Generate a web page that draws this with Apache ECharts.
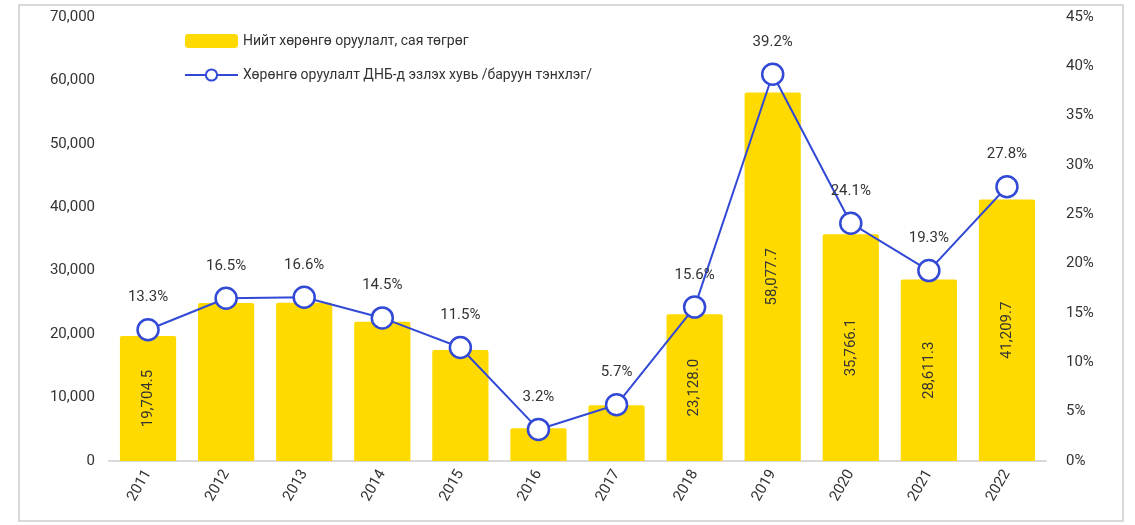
<!DOCTYPE html>
<html>
<head>
<meta charset="utf-8">
<script src="https://cdn.jsdelivr.net/npm/echarts@6/dist/echarts.min.js"></script>
<style>
  html, body { margin: 0; padding: 0; background: #fff; }
  #chart { width: 1135px; height: 525px; }
</style>
</head>
<body>
<div id="chart"></div>
<script>
const years = ['2011', '2012', '2013', '2014', '2015', '2016', '2017', '2018', '2019', '2020', '2021', '2022'];
// Нийт хөрөнгө оруулалт, сая төгрөг (2012-2017)
const investment = [19704.5, 24900, 24950, 21950, 17500, 5150, 8800, 23128.0, 58077.7, 35766.1, 28611.3, 41209.7];
const investmentLabelShown = [true, false, false, false, false, false, false, true, true, true, true, true];
// Хөрөнгө оруулалт ДНБ-д эзлэх хувь
const gdpShare = [13.3, 16.5, 16.6, 14.5, 11.5, 3.2, 5.7, 15.6, 39.2, 24.1, 19.3, 27.8];

const barName = 'Нийт хөрөнгө оруулалт, сая төгрөг';
const lineName = 'Хөрөнгө оруулалт ДНБ-д эзлэх хувь /баруун тэнхлэг/';

const textColor = '#333';
const fontFam = 'Roboto, "Liberation Sans", sans-serif';

const fmt = v => v.toLocaleString('en-US', { minimumFractionDigits: 1, maximumFractionDigits: 1 });

const chart = echarts.init(document.getElementById('chart'));

chart.setOption({
    animation: false,
    textStyle: { fontFamily: fontFam, color: textColor },
    graphic: [{
        type: 'rect',
        shape: { x: 19, y: 5, width: 1104, height: 516 },
        style: { fill: 'none', stroke: '#d9d9d9', lineWidth: 2 },
        silent: true
    }],
    legend: {
        orient: 'vertical',
        left: 179,
        top: 29,
        itemGap: 20,
        itemWidth: 53,
        itemHeight: 14,
        textStyle: { fontSize: 14, color: textColor, fontFamily: fontFam },
        data: [
            { name: barName, icon: 'roundRect' },
            { name: lineName }
        ]
    },
    grid: { left: 109, right: 89, top: 17, bottom: 64 },
    xAxis: {
        type: 'category',
        data: years,
        axisLine: { lineStyle: { color: '#d9d9d9', width: 2 } },
        axisTick: { show: false },
        axisLabel: { rotate: 60, fontSize: 15, color: textColor, margin: 10 }
    },
    yAxis: [{
        type: 'value',
        min: 0, max: 70000, interval: 10000,
        splitLine: { show: false },
        axisLine: { show: false },
        axisTick: { show: false },
        axisLabel: {
            fontSize: 15, color: textColor, margin: 14,
            formatter: v => v.toLocaleString('en-US')
        }
    }, {
        type: 'value',
        min: 0, max: 45, interval: 5,
        splitLine: { show: false },
        axisLine: { show: false },
        axisTick: { show: false },
        axisLabel: { fontSize: 15, color: textColor, margin: 20, formatter: '{value}%' }
    }],
    series: [{
        name: barName,
        type: 'bar',
        barWidth: '72%',
        itemStyle: { color: '#FFDA00', borderRadius: [2, 2, 0, 0] },
        data: investment.map((v, i) => ({
            value: v,
            label: {
                show: investmentLabelShown[i],
                position: 'inside',
                rotate: 90,
                fontSize: 15,
                color: textColor,
                formatter: p => fmt(p.value)
            }
        }))
    }, {
        name: lineName,
        type: 'line',
        yAxisIndex: 1,
        data: gdpShare,
        symbol: 'circle',
        symbolSize: 21,
        lineStyle: { color: '#3249D6', width: 2 },
        itemStyle: { color: '#fff', borderColor: '#3249D6', borderWidth: 2.5 },
        label: {
            show: true,
            position: 'top',
            distance: 13,
            fontSize: 15,
            color: textColor,
            formatter: p => p.value.toFixed(1) + '%'
        },
        z: 5
    }]
});
</script>
</body>
</html>
